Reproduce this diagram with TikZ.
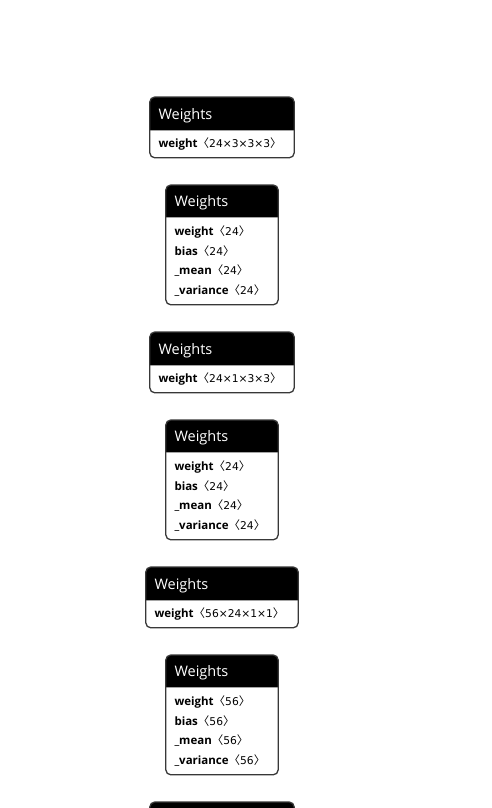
\documentclass[tikz,border=0pt]{standalone}
\usepackage{fontspec}
\setmainfont{Open Sans}
\newfontfamily\symf{DejaVu Sans}
\newfontfamily\cjk{Noto Sans CJK SC}
\usetikzlibrary{positioning,backgrounds}
\newcommand\dims[1]{{\cjk 〈}{\symf\fontsize{10.7}{12}\selectfont #1}{\cjk 〉}}
\tikzset{
  hd/.style={anchor=north, text=white, align=left, inner xsep=8.5, inner ysep=0, minimum height=33, text height=11.5, text depth=0, font=\fontsize{14.5}{17}\selectfont},
  bd/.style={align=left, inner xsep=8.5, inner ysep=0, font=\fontsize{11.5}{19.6}\selectfont},
  frame/.style={draw=black!78, line width=1.3, rounded corners=5}
}
\begin{document}
\begin{tikzpicture}[x=1pt, y=-1pt]
    \useasboundingbox (0,0) rectangle (492,808);
    % conv weights
    \node[hd, text width=127] (h1) at (222,97) {Weights};
    \node[bd, text width=127, minimum height=27, below=0pt of h1] (b1) {\textbf{weight}\dims{24×3×3×3}};
    % batch norm
    \node[hd, text width=95, minimum height=32] (h2) at (222,185) {Weights};
    \node[bd, text width=95, minimum height=87, below=0pt of h2] (b2) {\textbf{weight}\dims{24}\\\textbf{bias}\dims{24}\\\textbf{\_mean}\dims{24}\\\textbf{\_variance}\dims{24}};
    % depthwise conv
    \node[hd, text width=127] (h3) at (222,332) {Weights};
    \node[bd, text width=127, minimum height=27, below=0pt of h3] (b3) {\textbf{weight}\dims{24×1×3×3}};
    % batch norm
    \node[hd, text width=95, minimum height=32] (h4) at (222,420) {Weights};
    \node[bd, text width=95, minimum height=87, below=0pt of h4] (b4) {\textbf{weight}\dims{24}\\\textbf{bias}\dims{24}\\\textbf{\_mean}\dims{24}\\\textbf{\_variance}\dims{24}};
    % pointwise conv
    \node[hd, text width=135] (h5) at (222,567) {Weights};
    \node[bd, text width=135, minimum height=27, below=0pt of h5] (b5) {\textbf{weight}\dims{56×24×1×1}};
    % batch norm
    \node[hd, text width=95, minimum height=32] (h6) at (222,655) {Weights};
    \node[bd, text width=95, minimum height=87, below=0pt of h6] (b6) {\textbf{weight}\dims{56}\\\textbf{bias}\dims{56}\\\textbf{\_mean}\dims{56}\\\textbf{\_variance}\dims{56}};
    % next one, cut off
    \node[hd, text width=127] (h7) at (222,802) {};

    \begin{scope}[on background layer]
        \foreach \i in {1,...,7}
            \fill (h\i.south west) [rounded corners=5] -- (h\i.north west) -- (h\i.north east) [sharp corners] -- (h\i.south east) -- cycle;
    \end{scope}
    \foreach \i in {1,...,6}
        \draw[frame] (h\i.north west) rectangle (b\i.south east);
    \draw[frame] (h7.south west) |- (h7.north east) -- (h7.south east);
\end{tikzpicture}
\end{document}
